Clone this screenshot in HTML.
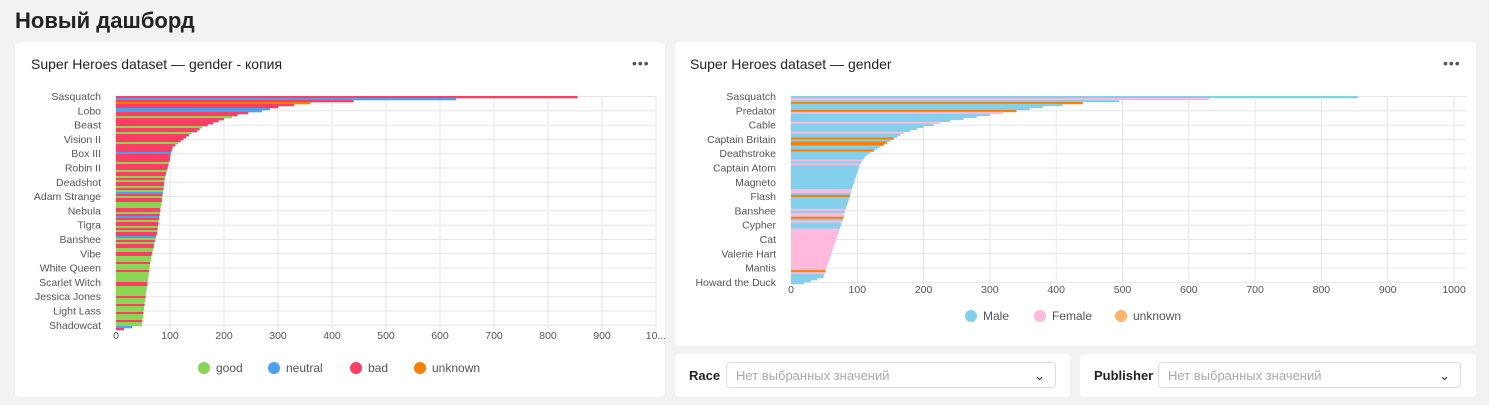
<!DOCTYPE html>
<html><head><meta charset="utf-8">
<style>
body{margin:0;width:1489px;height:405px;background:#f2f2f2;font-family:"Liberation Sans","DejaVu Sans",sans-serif;position:relative;overflow:hidden}
.card{position:absolute;background:#fff;border-radius:4px}
.title{position:absolute;font-size:14px;color:#222}
.dots{position:absolute;font-size:14px;color:#555;letter-spacing:1px}
.sel{position:absolute;border:1px solid #ddd;border-radius:4px;height:26px;font-size:13px;color:#aaa;line-height:26px;padding-left:9px;box-sizing:border-box}
.lbl{position:absolute;font-size:13px;font-weight:bold;color:#222}
svg text{font-family:"Liberation Sans","DejaVu Sans",sans-serif;font-size:10.5px;fill:#555}
</style></head><body>
<div style="position:absolute;left:15px;top:8px;font-size:22px;font-weight:bold;color:#222">Новый дашборд</div>
<div class="card" style="left:15px;top:42px;width:650px;height:355px"></div>
<div class="card" style="left:675px;top:42px;width:801px;height:304px"></div>
<div class="card" style="left:675px;top:354px;width:395px;height:43px"></div>
<div class="card" style="left:1080px;top:354px;width:396px;height:43px"></div>
<div class="title" style="left:31px;top:56px">Super Heroes dataset — gender - копия</div>
<div class="dots" style="left:632px;top:55px">•••</div>
<div class="title" style="left:690px;top:56px">Super Heroes dataset — gender</div>
<div class="dots" style="left:1443px;top:55px">•••</div>
<div class="lbl" style="left:689px;top:368px">Race</div>
<div class="sel" style="left:726px;top:362px;width:330px">Нет выбранных значений<span style="position:absolute;right:10px;color:#333">⌄</span></div>
<div class="lbl" style="left:1094px;top:368px">Publisher</div>
<div class="sel" style="left:1158px;top:362px;width:303px">Нет выбранных значений<span style="position:absolute;right:10px;color:#333">⌄</span></div>
<svg id="chart" width="1489" height="405" style="position:absolute;left:0;top:0"></svg>
<script>
const leftCats=["Sasquatch","Lobo","Beast","Vision II","Box III","Robin II","Deadshot","Adam Strange","Nebula","Tigra","Banshee","Vibe","White Queen","Scarlet Witch","Jessica Jones","Light Lass","Shadowcat"];
const leftValues=[855,630,440,360,330,300,285,270,245,225,215,200,190,180,170,160,155,150,140,135,130,125,120,115,110,105,104,103,102,101,100,100,99,98,97,96,95,94,93,92,91,90,90,89,89,88,88,87,87,86,86,85,85,84,84,83,82,82,81,81,80,80,79,79,78,78,77,77,76,75,74,73,72,71,70,70,69,68,67,66,65,65,64,63,63,62,62,61,61,60,60,59,59,58,58,57,57,56,56,55,55,54,54,53,53,52,52,51,51,50,50,49,49,48,48,30,15];
const leftColors="bnbubbnnbbgbbbbgbbgbbbbgbbbbnbbbbgbbbgbbgbgbbgbgnbgbbgggbbgbnbgbbgbgbbngbgbbggbbgggbgggbgggggbbgggggbgggbgggbgggbggnb";
const rightCats=["Sasquatch","Predator","Cable","Captain Britain","Deathstroke","Captain Atom","Magneto","Flash","Banshee","Cypher","Cat","Valerie Hart","Mantis","Howard the Duck"];
const rightValues=[855,630,495,440,410,380,360,340,320,300,280,260,240,225,215,200,190,180,170,165,160,155,150,145,140,135,130,125,120,115,112,110,108,106,104,103,102,101,100,99,98,97,96,95,94,93,92,91,90,90,89,88,87,86,85,84,83,82,81,80,80,79,78,77,76,75,74,73,72,71,70,69,68,67,66,65,64,63,62,61,60,59,58,57,56,55,54,53,52,51,50,49,40,30,20];
const rightColors="mfmummmufmmmmfmmmmfmmumuummummmmfmfmmmmmmmmmmmmffmummmmmmfmffumfmmmfffffffffffffffffffffufmmmm";
const ticks=[0,100,200,300,400,500,600,700,800,900,1000];
const colorMap={g:"#8ad554",n:"#4aa1ef",b:"#ff3d64",u:"#ff7e00",m:"#82d0ec",f:"#ffb9dd"};
const svg=document.getElementById('chart');
const NS="http://www.w3.org/2000/svg";
function mk(t,a){const e=document.createElementNS(NS,t);for(const k in a)e.setAttribute(k,a[k]);svg.appendChild(e);return e;}
function drawChart(cfg){
  const xs=v=>cfg.x0+v*(cfg.x1-cfg.x0)/1000;
  for(let i=0;i<cfg.cats.length;i++){
    const y=cfg.y0+i*cfg.step;
    const gl=mk('line',{x1:cfg.x0,x2:cfg.xEnd,y1:y+0.5,y2:y+0.5,stroke:'#e6e6e6'});
    
    
    const t=mk('text',{x:cfg.x0-15,y:y+4,'text-anchor':'end'});t.textContent=cfg.cats[i];
    
    
  }
  ticks.forEach((tk,i)=>{
    const x=xs(tk);
    const l=mk('line',{x1:x,x2:x,y1:cfg.y0,y2:cfg.yb,stroke:'#e6e6e6'});
    
    
    const t=mk('text',{x:x,y:cfg.yb+9,'text-anchor':i==0?'middle':'middle'});
    t.textContent=(cfg.trunc&&tk==1000)?'10...':String(tk);
    
    
  });
  const n=cfg.vals.length,h=(cfg.yb-cfg.y0)/n;
  cfg.vals.forEach((v,i)=>{
    const r=mk('rect',{x:cfg.x0,y:cfg.y0+i*h,width:xs(v)-cfg.x0,height:h+0.3,fill:colorMap[cfg.cols[i]||cfg.def]});
    
    
  });
  cfg.legend.forEach(([name,c,x])=>{
    const ci=mk('circle',{cx:x,cy:cfg.ly,r:6,fill:c});
    
    
    const t=mk('text',{x:x+12,y:cfg.ly+4});t.textContent=name;t.style.fontSize='12px';
    
    
  });
}
drawChart({cats:leftCats,vals:leftValues,cols:leftColors,def:'g',x0:116,x1:656,xEnd:656,y0:96,yb:330,step:14.3,trunc:true,ly:368,
  legend:[["good","#8ad554",204],["neutral","#4aa1ef",274],["bad","#ff3d64",356],["unknown","#ff7e00",420]]});
drawChart({cats:rightCats,vals:rightValues,cols:rightColors,def:'m',x0:791,x1:1454,xEnd:1466,y0:96,yb:284,step:14.3,trunc:false,ly:316,
  legend:[["Male","#82d0ec",971],["Female","#ffb9dd",1040],["unknown","#ffb36b",1121]]});
</script>
</body></html>
